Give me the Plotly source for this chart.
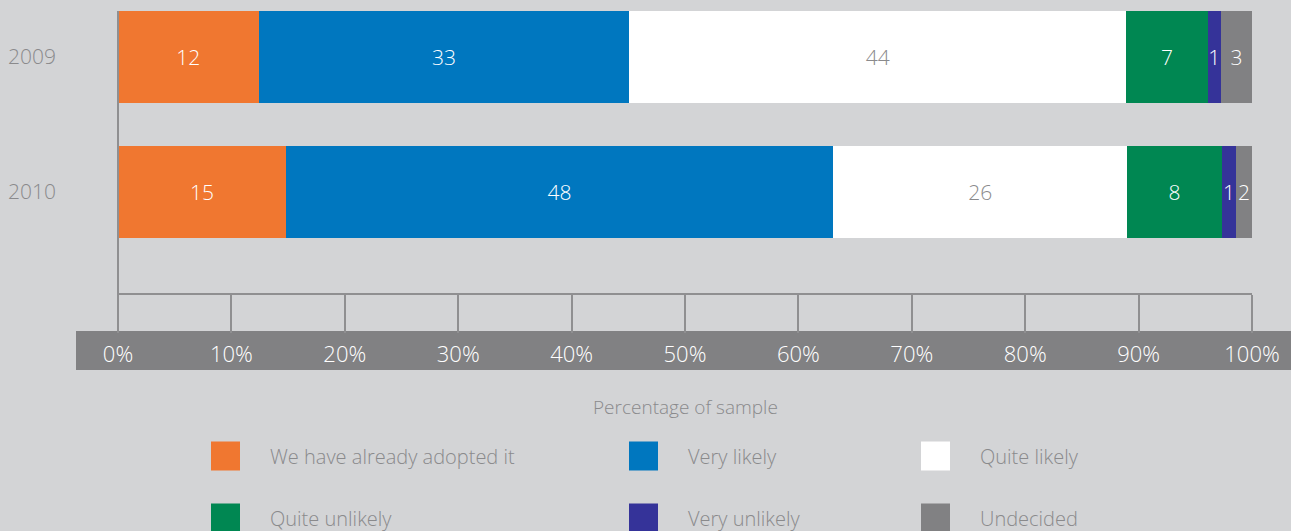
import plotly.graph_objects as go

years = ["2009", "2010"]
categories = ["We have already adopted it", "Very likely", "Quite likely",
              "Quite unlikely", "Very unlikely", "Undecided"]
# segment widths (percent of sample)
values = {
    "We have already adopted it": [12.4, 14.8],
    "Very likely": [32.7, 48.25],
    "Quite likely": [43.8, 25.95],
    "Quite unlikely": [7.2, 8.35],
    "Very unlikely": [1.15, 1.25],
    "Undecided": [2.75, 1.4],
}
# labels printed on the bars
labels = {
    "We have already adopted it": ["12", "15"],
    "Very likely": ["33", "48"],
    "Quite likely": ["44", "26"],
    "Quite unlikely": ["7", "8"],
    "Very unlikely": ["1", "1"],
    "Undecided": ["3", "2"],
}
colors = ["#f07730", "#0077bf", "#ffffff", "#008752", "#353399", "#818183"]
label_colors = ["#ffffff", "#ffffff", "#8a8a8c", "#ffffff", "#ffffff", "#ffffff"]
tick_vals = [0, 10, 20, 30, 40, 50, 60, 70, 80, 90, 100]
tick_text = [f"{v}%" for v in tick_vals]
x_title = "Percentage of sample"

FONT = "Open Sans"
WEIGHT = 300
BG = "#d3d4d6"
GREY_TXT = "#8a8a8c"

fig = go.Figure()
for cat, col, lcol in zip(categories, colors, label_colors):
    fig.add_trace(go.Bar(
        y=years, x=values[cat], orientation="h", name=cat,
        marker=dict(color=col, line=dict(width=0)),
        text=labels[cat], textposition="inside", insidetextanchor="middle",
        textangle=0, textfont=dict(color=lcol, size=21, family=FONT, weight=WEIGHT),
        showlegend=False, hoverinfo="name+x",
    ))

W, H = 1291, 531
L, R, T, B = 118, 39, 11, 238
pw, ph = W - L - R, H - T - B

def px_x(p):
    return (p - L) / pw

def px_y(p):
    return (H - B - p) / ph

shapes = [
    # dark band behind tick labels
    dict(type="rect", xref="paper", yref="paper", x0=px_x(76), x1=px_x(1291),
         y0=px_y(370), y1=px_y(331), fillcolor="#818183", line=dict(width=0),
         layer="below"),
    # vertical axis line
    dict(type="line", xref="paper", yref="paper", x0=0, x1=0,
         y0=px_y(331), y1=1, line=dict(color="#8f8f91", width=2)),
]
annotations = []
# legend (2 rows x 3 columns)
leg_x = [211, 629, 921]
leg_y = [456, 518]
for i, (cat, col) in enumerate(zip(categories, colors)):
    cx = leg_x[i % 3]
    cy = leg_y[i // 3]
    shapes.append(dict(type="rect", xref="paper", yref="paper",
                       x0=px_x(cx), x1=px_x(cx + 29), y0=px_y(cy + 14.5), y1=px_y(cy - 14.5),
                       fillcolor=col, line=dict(width=0)))
    annotations.append(dict(xref="paper", yref="paper", x=px_x(cx + 57), y=px_y(cy),
                            xanchor="left", yanchor="middle", showarrow=False,
                            text=cat, font=dict(family=FONT, size=20, color=GREY_TXT, weight=WEIGHT)))
annotations.append(dict(xref="paper", yref="paper", x=0.5, y=px_y(407),
                        xanchor="center", yanchor="middle", showarrow=False,
                        text=x_title, font=dict(family=FONT, size=19, color=GREY_TXT, weight=WEIGHT)))

fig.update_layout(
    width=W, height=H, barmode="stack", bargap=0.32,
    paper_bgcolor=BG, plot_bgcolor=BG,
    margin=dict(l=L, r=R, t=T, b=B, autoexpand=False),
    font=dict(family=FONT, size=20, color=GREY_TXT, weight=WEIGHT),
    uniformtext=dict(minsize=21, mode="show"),
    shapes=shapes, annotations=annotations,
    xaxis=dict(range=[0, 100], tickvals=tick_vals, ticktext=tick_text,
               showgrid=False, zeroline=False, showline=True, linecolor="#8f8f91",
               linewidth=2, ticks="outside", ticklen=38, tickwidth=2, tickcolor="#8f8f91",
               tickfont=dict(color="#ffffff", size=22, family=FONT, weight=WEIGHT),
               ticklabelstandoff=3, fixedrange=True),
    yaxis=dict(type="category", categoryorder="array", categoryarray=years,
               range=[1.748, -0.34], showgrid=False, zeroline=False, showline=False,
               ticks="", tickfont=dict(color=GREY_TXT, size=21, family=FONT, weight=WEIGHT),
               ticklabelstandoff=61, fixedrange=True),
)
fig.write_html("out.html", config={"displayModeBar": False},
               post_script="document.body.style.margin='0';document.body.style.overflow='hidden';")
